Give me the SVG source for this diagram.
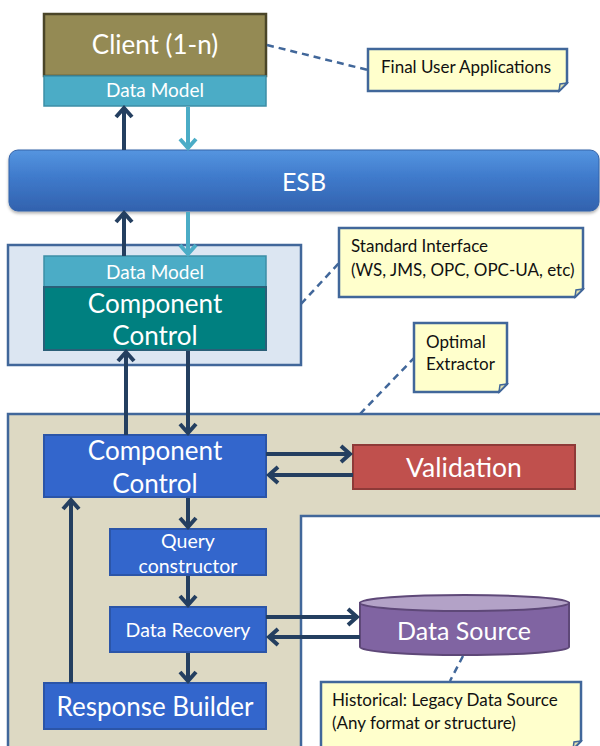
<svg xmlns="http://www.w3.org/2000/svg" width="600" height="746" viewBox="0 0 600 746">
  <style>
    text { font-family: Lato, "Open Sans", "Liberation Sans", sans-serif; text-anchor: middle; }
    .w { fill: #FFFFFF; }
    .nt { fill: #111111; text-anchor: start; font-size: 17px; }
    .blue { fill: #3366CC; stroke: #2B55A8; stroke-width: 2; }
    .note { fill: #FFFFCC; stroke: #41679A; stroke-width: 2.5; }
    .fold { fill: #E0E0B0; stroke: #41679A; stroke-width: 1.5; }
    .dash { fill: none; stroke: #41679A; stroke-width: 2.5; stroke-dasharray: 7 5; }
    .dk { fill: none; stroke: #243F60; stroke-width: 4; marker-end: url(#ad); }
    .lt { fill: none; stroke: #4BACC6; stroke-width: 4; marker-end: url(#al); }
  </style>
  <defs>
    <marker id="ad" markerUnits="userSpaceOnUse" markerWidth="14" markerHeight="20" viewBox="-2 -10 14 20" refX="9" refY="0" orient="auto">
      <path d="M0,-8 L9,0 L0,8" fill="none" stroke="#243F60" stroke-width="4"/>
    </marker>
    <marker id="al" markerUnits="userSpaceOnUse" markerWidth="14" markerHeight="20" viewBox="-2 -10 14 20" refX="9" refY="0" orient="auto">
      <path d="M0,-8 L9,0 L0,8" fill="none" stroke="#4BACC6" stroke-width="4"/>
    </marker>
    <linearGradient id="esbg" x1="0" y1="0" x2="0" y2="1">
      <stop offset="0" stop-color="#5595E0"/>
      <stop offset="0.45" stop-color="#3F7ACB"/>
      <stop offset="1" stop-color="#3262AE"/>
    </linearGradient>
    <filter id="sh" x="-5%" y="-20%" width="110%" height="150%">
      <feDropShadow dx="0" dy="2" stdDeviation="1.5" flood-color="#000" flood-opacity="0.3"/>
    </filter>
  </defs>

  <!-- containers -->
  <g id="standard-interface-area">
    <rect x="8" y="245" width="293" height="120" fill="#DCE6F2" stroke="#41679A" stroke-width="2.5"/>
  </g>
  <g id="extractor-area">
    <rect x="8" y="414" width="610" height="350" fill="#DDD9C3" stroke="#41679A" stroke-width="2.5"/>
    <rect x="301" y="516" width="320" height="250" fill="#FFFFFF" stroke="#41679A" stroke-width="2.5"/>
  </g>

  <!-- client -->
  <g id="client">
    <rect x="44" y="14" width="222" height="62" fill="#948A54" stroke="#4A4528" stroke-width="2.5"/>
    <text x="155" y="54" class="w" font-size="26">Client (1-n)</text>
    <rect x="44" y="76" width="222" height="30" fill="#4BACC6" stroke="#3C8EA6" stroke-width="1.5"/>
    <text x="155" y="97" class="w" font-size="19">Data Model</text>
  </g>

  <!-- ESB -->
  <g id="esb">
    <rect x="9" y="150" width="590" height="61" rx="9" fill="url(#esbg)" stroke="#3563A8" stroke-width="1" filter="url(#sh)"/>
    <text x="304" y="191" class="w" font-size="25">ESB</text>
  </g>

  <!-- interface component -->
  <g id="interface-component">
    <rect x="44" y="256" width="222" height="31" fill="#4BACC6" stroke="#3C8EA6" stroke-width="1.5"/>
    <text x="155" y="279" class="w" font-size="19">Data Model</text>
    <rect x="44" y="287" width="222" height="63" fill="#008080" stroke="#2A5F78" stroke-width="2"/>
    <text x="155" y="313" class="w" font-size="26">Component</text>
    <text x="155" y="345" class="w" font-size="26">Control</text>
  </g>

  <!-- extractor nodes -->
  <g id="component-control">
    <rect x="44" y="435" width="222" height="62" class="blue"/>
    <text x="155" y="460" class="w" font-size="26">Component</text>
    <text x="155" y="493" class="w" font-size="26">Control</text>
  </g>
  <g id="validation">
    <rect x="353" y="445" width="222" height="44" fill="#C0504D" stroke="#8E3A38" stroke-width="2"/>
    <text x="464" y="477" class="w" font-size="26.5">Validation</text>
  </g>
  <g id="query-constructor">
    <rect x="110" y="529" width="156" height="46" class="blue"/>
    <text x="188" y="548" class="w" font-size="19.5">Query</text>
    <text x="188" y="573" class="w" font-size="19.5">constructor</text>
  </g>
  <g id="data-recovery">
    <rect x="110" y="607" width="156" height="45" class="blue"/>
    <text x="188" y="637" class="w" font-size="19.5">Data Recovery</text>
  </g>
  <g id="response-builder">
    <rect x="44" y="683" width="222" height="46" class="blue"/>
    <text x="155" y="716" class="w" font-size="26">Response Builder</text>
  </g>
  <g id="data-source">
    <path d="M360,603 V647 A104.5,8 0 0 0 569,647 V603 Z" fill="#8064A2" stroke="#5E4878" stroke-width="2"/>
    <ellipse cx="464.5" cy="603" rx="104.5" ry="8" fill="#B3A2C7" stroke="#5E4878" stroke-width="2"/>
    <text x="464" y="640" class="w" font-size="25">Data Source</text>
  </g>

  <!-- notes -->
  <g id="note-final-user">
    <path d="M368,49 H567 V83 L559,91 H368 Z" class="note"/>
    <path d="M567,83 L559,91 L560,84 Z" class="fold"/>
    <text x="381" y="73" class="nt">Final User Applications</text>
  </g>
  <g id="note-standard-interface">
    <path d="M339,228 H583 V289 L575,297 H339 Z" class="note"/>
    <path d="M583,289 L575,297 L576,290 Z" class="fold"/>
    <text x="351" y="252" class="nt">Standard Interface</text>
    <text x="351" y="276" class="nt">(WS, JMS, OPC, OPC-UA, etc)</text>
  </g>
  <g id="note-optimal-extractor">
    <path d="M414,323 H507 V384 L499,392 H414 Z" class="note"/>
    <path d="M507,384 L499,392 L500,385 Z" class="fold"/>
    <text x="426" y="348" class="nt">Optimal</text>
    <text x="426" y="370" class="nt">Extractor</text>
  </g>
  <g id="note-historical">
    <path d="M321,682 H581 V741 L573,749 H321 Z" class="note"/>
    <path d="M581,741 L573,749 L574,742 Z" class="fold"/>
    <text x="332" y="706" class="nt">Historical: Legacy Data Source</text>
    <text x="332" y="729" class="nt">(Any format or structure)</text>
  </g>

  <!-- connectors -->
  <g id="connectors">
    <path class="dash" d="M267,45 L368,70"/>
    <path class="dash" d="M301,304 L339,263"/>
    <path class="dash" d="M360,414 L414,358"/>
    <path class="dash" d="M463,656 L450,681"/>

    <path class="dk" d="M124,150 V108"/>
    <path class="lt" d="M188,107 V148"/>
    <path class="dk" d="M124,256 V213"/>
    <path class="lt" d="M188,212 V254"/>
    <path class="dk" d="M126,435 V352"/>
    <path class="dk" d="M188,351 V433"/>
    <path class="dk" d="M266,454 H350"/>
    <path class="dk" d="M353,475 H269"/>
    <path class="dk" d="M188,498 V527"/>
    <path class="dk" d="M188,576 V605"/>
    <path class="dk" d="M266,617 H357"/>
    <path class="dk" d="M360,637 H269"/>
    <path class="dk" d="M188,653 V681"/>
    <path class="dk" d="M71,683 V500"/>
  </g>
</svg>
